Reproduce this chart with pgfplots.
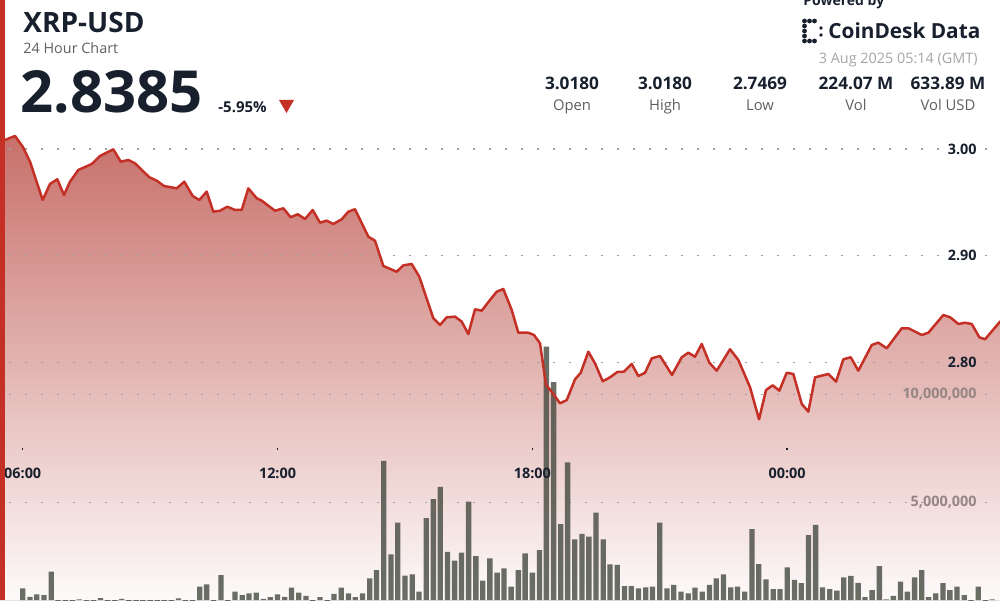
\documentclass[border=0pt]{standalone}
\usepackage{pgfplots}
\pgfplotsset{compat=1.18}
\usepackage{pgfplotstable}
\usepgfplotslibrary{fillbetween}
\usepackage{fontspec}
\setmainfont{Open Sans}

\definecolor{xrpred}{RGB}{196,48,38}
\definecolor{areatop}{RGB}{200,112,106}
\definecolor{areamid}{RGB}{235,197,193}
\definecolor{areabot}{RGB}{253,250,250}
\definecolor{volbar}{RGB}{64,70,59}
\definecolor{inkdark}{RGB}{24,32,46}
\definecolor{labgray}{RGB}{95,95,95}
\definecolor{volgray}{RGB}{150,134,131}
\definecolor{dategray}{RGB}{165,165,165}
\definecolor{gridgray}{RGB}{160,160,160}

% price, hours (24 = midnight)
\pgfplotstableread{
h p
5.450 3.0075
5.543 3.0078
5.819 3.0122
6.000 3.0022
6.172 2.9881
6.471 2.9522
6.643 2.9672
6.815 2.9716
6.972 2.9569
7.114 2.9693
7.309 2.9803
7.625 2.9859
7.820 2.9934
8.133 2.9997
8.308 2.9881
8.487 2.9897
8.644 2.9866
8.981 2.9735
9.155 2.9703
9.327 2.9653
9.626 2.9631
9.805 2.9693
10.003 2.9559
10.158 2.9522
10.332 2.9600
10.488 2.9412
10.646 2.9421
10.818 2.9459
10.999 2.9428
11.157 2.9428
11.312 2.9631
11.510 2.9538
11.628 2.9515
11.941 2.9421
12.136 2.9444
12.310 2.9360
12.475 2.9388
12.647 2.9344
12.828 2.9428
13.000 2.9309
13.158 2.9328
13.314 2.9297
13.511 2.9341
13.667 2.9412
13.824 2.9435
14.138 2.9178
14.295 2.9140
14.491 2.8903
14.806 2.8849
14.962 2.8909
15.159 2.8922
15.338 2.8803
15.668 2.8413
15.826 2.8350
15.984 2.8422
16.179 2.8428
16.337 2.8381
16.492 2.8265
16.650 2.8497
16.808 2.8484
17.003 2.8584
17.161 2.8662
17.316 2.8687
17.514 2.8490
17.670 2.8277
17.905 2.8277
18.039 2.8256
18.180 2.8178
18.322 2.7787
18.456 2.7724
18.651 2.7615
18.810 2.7646
19.004 2.7840
19.139 2.7902
19.318 2.8099
19.475 2.7990
19.657 2.7822
19.829 2.7859
20.000 2.7909
20.158 2.7912
20.339 2.7984
20.495 2.7871
20.653 2.7902
20.811 2.8037
21.006 2.8059
21.288 2.7881
21.517 2.8047
21.672 2.8090
21.830 2.8052
21.988 2.8172
22.167 2.7996
22.341 2.7921
22.654 2.8122
22.850 2.8022
23.125 2.7766
23.337 2.7465
23.502 2.7740
23.660 2.7784
23.815 2.7734
23.990 2.7902
24.145 2.7890
24.343 2.7609
24.498 2.7537
24.656 2.7859
24.969 2.7890
25.150 2.7818
25.322 2.8028
25.497 2.8047
25.675 2.7921
25.991 2.8162
26.146 2.8184
26.344 2.8131
26.697 2.8319
26.853 2.8319
27.168 2.8256
27.324 2.8277
27.677 2.8443
27.835 2.8422
28.031 2.8359
28.188 2.8371
28.346 2.8359
28.525 2.8234
28.659 2.8216
29.020 2.8385
}\pricetable

% volume per 10 min, millions
\pgfplotstableread{
h v
6.00 1.00
6.17 0.61
6.33 0.72
6.50 0.69
6.67 1.78
6.83 0.35
7.00 0.30
7.17 0.38
7.33 0.49
7.50 0.32
7.67 0.36
7.83 0.55
8.00 0.30
8.17 0.34
8.33 0.51
8.50 0.33
8.67 0.30
8.83 0.36
9.00 0.31
9.17 0.38
9.33 0.33
9.50 0.30
9.67 0.54
9.83 0.35
10.00 0.40
10.17 1.08
10.33 1.19
10.50 0.40
10.67 1.62
10.83 0.42
11.00 0.85
11.17 0.69
11.33 0.77
11.50 0.80
11.67 0.51
11.83 0.59
12.00 0.72
12.17 0.61
12.33 1.03
12.50 0.80
12.67 0.65
12.83 0.40
13.00 0.59
13.17 0.42
13.33 0.74
13.50 1.03
13.67 0.77
13.83 0.59
14.00 0.77
14.17 1.47
14.33 1.85
14.50 6.93
14.67 2.58
14.83 4.05
15.00 1.59
15.17 1.65
15.33 0.85
15.50 4.26
15.67 5.15
15.83 5.72
16.00 2.70
16.17 2.29
16.33 2.66
16.50 5.03
16.67 2.50
16.83 1.36
17.00 2.40
17.17 1.73
17.33 1.93
17.50 1.08
17.67 1.85
17.83 2.63
18.00 1.73
18.17 2.78
18.33 12.23
18.50 10.58
18.67 3.99
18.83 6.86
19.00 3.28
19.17 3.53
19.33 3.40
19.50 4.52
19.67 3.28
19.83 2.12
20.00 2.09
20.17 1.11
20.33 1.11
20.50 1.00
20.67 1.05
20.83 1.08
21.00 4.05
21.17 1.00
21.33 1.16
21.50 0.85
21.67 0.77
21.83 1.03
22.00 0.85
22.17 1.16
22.33 1.47
22.50 1.65
22.67 1.05
22.83 1.08
23.00 0.85
23.17 3.75
23.33 2.13
23.50 1.42
23.67 0.97
23.83 0.97
24.00 1.98
24.17 1.39
24.33 1.24
24.50 3.48
24.67 3.95
24.83 1.05
25.00 0.96
25.17 0.89
25.33 1.51
25.50 1.58
25.67 1.26
25.83 0.59
26.00 0.92
26.17 2.04
26.33 0.49
26.50 0.65
26.67 1.31
26.83 0.85
27.00 1.51
27.17 1.85
27.33 0.59
27.50 0.77
27.67 1.24
27.83 0.92
28.00 1.08
28.17 0.69
28.33 0.35
28.50 1.08
28.67 0.35
28.83 0.49
}\voltable

\begin{document}
\begin{tikzpicture}
\pgfplotsset{
  chartbase/.style={
    at={(0,0)}, anchor=south west,
    width=500pt, height=300pt, scale only axis,
    xmin=5.4655, xmax=29.011,
    axis line style={draw=none},
    ytick style={draw=none},
    grid style={gridgray, line width=0.7pt, dash pattern=on 0.7pt off 7.3pt, dash phase=3.4pt},
    yticklabel pos=right,
    yticklabel style={anchor=east, inner sep=0pt, xshift=-11.5pt,
      font=\bfseries\fontsize{7.2}{8}\selectfont},
  },
  priceaxis/.style={chartbase, ymin=2.5771, ymax=3.1397},
}
% 1: shaded price area
\begin{axis}[priceaxis, xtick=\empty, ytick=\empty]
\path[name path=base] (axis cs:5,2.5771) -- (axis cs:30,2.5771);
\addplot[name path=price, draw=none] table[x=h,y=p] {\pricetable};
\addplot[top color=areatop, middle color=areamid, bottom color=areabot, draw=none]
  fill between[of=price and base];
\end{axis}
% 2: volume bars
\begin{axis}[chartbase,
  ybar, bar width=0.125,
  ymin=0.46, ymax=28.34,
  xtick=\empty,
  ymajorgrids,
  ytick={5,10}, yticklabels={{5,000,000},{10,000,000}},
  yticklabel style={text=volgray},
]
\addplot[fill=volbar, fill opacity=0.78, draw=none] table[x=h,y=v] {\voltable};
\end{axis}
% 3: price line, grid and time axis
\begin{axis}[priceaxis,
  ymajorgrids,
  ytick={2.8,2.9,3.0}, yticklabels={2.80,2.90,3.00},
  yticklabel style={text=inkdark},
  xtick pos=bottom,
  xtick={6,12,18,24}, xticklabels={06:00,12:00,18:00,00:00},
  xticklabel style={anchor=center, yshift=63.5pt, inner sep=0pt,
    font=\bfseries\fontsize{7.2}{8}\selectfont, text=inkdark},
  xtick style={draw=inkdark, line width=0.7pt, yshift=74.8pt},
  major tick length=1pt,
]
\addplot[xrpred, line width=1.25pt, line join=round] table[x=h,y=p] {\pricetable};
\end{axis}

% header, in pixel units from the top left
\begin{scope}[shift={(0,300pt)}, x=0.5pt, y=-0.5pt]
\fill[xrpred] (0,0) rectangle (4.5,600);
\node[anchor=base west, inner sep=0, text=inkdark,
  font=\bfseries\fontsize{14}{16}\selectfont] at (23,33) {XRP-USD};
\node[anchor=base west, inner sep=0, text=labgray,
  font=\fontsize{7.2}{8}\selectfont] at (23,53.5) {24 Hour Chart};
\node[anchor=base west, inner sep=0, text=inkdark,
  font=\bfseries\fontsize{29}{32}\selectfont] at (20,113) {2.8385};
\node[anchor=base west, inner sep=0, text=inkdark,
  font=\bfseries\fontsize{7.5}{8}\selectfont] at (218,113) {-5.95\%};
\fill[xrpred] (279,100) -- (294,100) -- (286.5,113) -- cycle;
\foreach \cx/\val/\lab in {572/3.0180/Open, 665/3.0180/High, 760/2.7469/Low,
    856/224.07 M/Vol, 948/633.89 M/Vol USD} {
  \node[anchor=base, inner sep=0, text=inkdark,
    font=\bfseries\fontsize{8.6}{9}\selectfont] at (\cx,89.3) {\val};
  \node[anchor=base, inner sep=0, text=labgray,
    font=\fontsize{7.4}{8}\selectfont] at (\cx,111) {\lab};
}
\node[anchor=base west, inner sep=0, text=inkdark,
  font=\bfseries\fontsize{7}{8}\selectfont] at (803,6) {Powered by};
% logo mark
\foreach \yy in {21,26,31,36,41} \fill[inkdark] (804.5,\yy) circle (2.4);
\foreach \xx in {809.5,814.5} {\fill[inkdark] (\xx,21) circle (2.4); \fill[inkdark] (\xx,41) circle (2.4);}
\fill[inkdark] (821,28) circle (1.8);
\fill[inkdark] (821,35) circle (1.8);
\node[anchor=base west, inner sep=0, text=inkdark,
  font=\bfseries\fontsize{10.4}{12}\selectfont] at (828,38.3) {CoinDesk Data};
\node[anchor=base east, inner sep=0, text=dategray,
  font=\fontsize{7.2}{8}\selectfont] at (978,63.5) {3 Aug 2025 05:14 (GMT)};
\end{scope}
% page is exactly the chart area; the cut-off top line stays cut off
\pgfresetboundingbox
\path[use as bounding box] (0,0) rectangle (500pt,300pt);
\end{tikzpicture}
\end{document}
